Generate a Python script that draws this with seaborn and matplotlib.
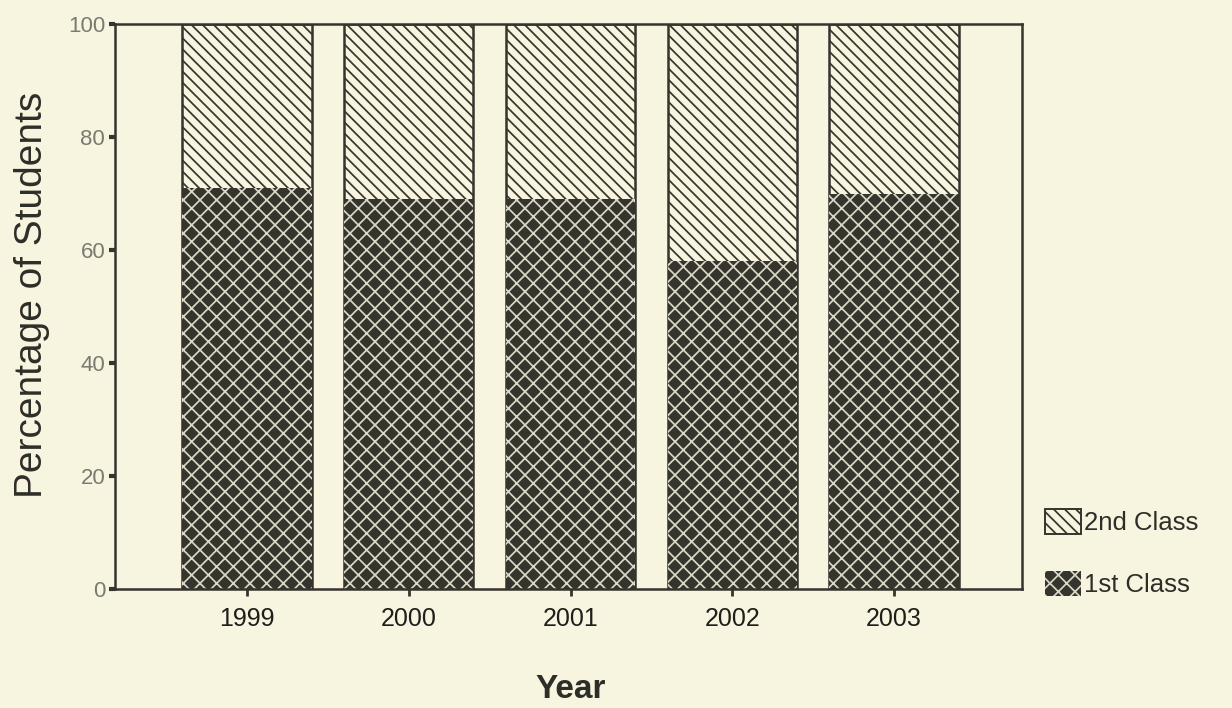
import numpy as np
import pandas as pd
import matplotlib
matplotlib.use("Agg")
import matplotlib.pyplot as plt
import seaborn as sns
from matplotlib.patches import Patch

# --- Data ---
years = ["1999", "2000", "2001", "2002", "2003"]
first_class = [71, 69, 69, 58, 70]
second_class = [29, 31, 31, 42, 30]

# --- Style ---
BG = "#f7f4df"
DARK = "#35342d"
HATCH_LIGHT = "#d9d7c6"

sns.set_theme(style="white")
plt.rcParams["font.family"] = ["Liberation Sans", "DejaVu Sans"]
plt.rcParams["hatch.linewidth"] = 1.25

df = pd.DataFrame({"year": years, "first": first_class, "second": second_class})
df["total"] = df["first"] + df["second"]

fig = plt.figure(figsize=(12.32, 7.08), dpi=100, facecolor=BG)
ax = fig.add_axes([0.0933, 0.168, 0.7362, 0.798])
ax.set_facecolor(BG)

# stacked: full bar (2nd class on top) then 1st class over it
sns.barplot(data=df, x="year", y="total", color=BG, width=0.8, saturation=1, ax=ax)
n_top = len(ax.patches)
sns.barplot(data=df, x="year", y="first", color=DARK, width=0.8, saturation=1, ax=ax)

for i, p in enumerate(ax.patches):
    if i < n_top:
        p.set_facecolor(BG)
        p.set_edgecolor(DARK)
        p.set_hatch("\\\\\\")
        p.set_linewidth(1.8)
    else:
        p.set_facecolor(DARK)
        p.set_edgecolor(HATCH_LIGHT)
        p.set_hatch("xx")
        p.set_linewidth(0)

ax.set_xlim(-0.816, 4.79)
ax.set_ylim(0, 100)
ax.set_yticks([0, 20, 40, 60, 80, 100])

for s in ax.spines.values():
    s.set_color(DARK)
    s.set_linewidth(1.8)

ax.tick_params(axis="y", length=4, width=3, color=DARK, labelcolor="#7a7a72",
               labelsize=16, pad=3, left=True)
ax.tick_params(axis="x", length=5, width=2, color=DARK, labelcolor="#1e1e1a",
               labelsize=18, pad=8, bottom=True)

ax.set_ylabel("Percentage of Students", fontsize=28, color="#2e2e28")
ax.set_xlabel("Year", fontsize=24, fontweight="bold", color="#2e2e28")
ax.yaxis.set_label_coords(-0.072, 0.52)
ax.xaxis.set_label_coords(0.502, -0.15)

handles = [
    Patch(facecolor=BG, edgecolor=DARK, hatch="\\\\\\", linewidth=1.4, label="2nd Class"),
    Patch(facecolor=DARK, edgecolor=HATCH_LIGHT, hatch="xx", linewidth=0, label="1st Class"),
]
fig.legend(handles=handles, loc="upper left", bbox_to_anchor=(1022 / 1232, 1 - 486 / 708),
           frameon=False, fontsize=18.5, labelspacing=1.4, handlelength=1.4,
           handleheight=1.1, handletextpad=0.1, labelcolor="#2e2e28")

fig.savefig("out.png", dpi=100, facecolor=BG)
